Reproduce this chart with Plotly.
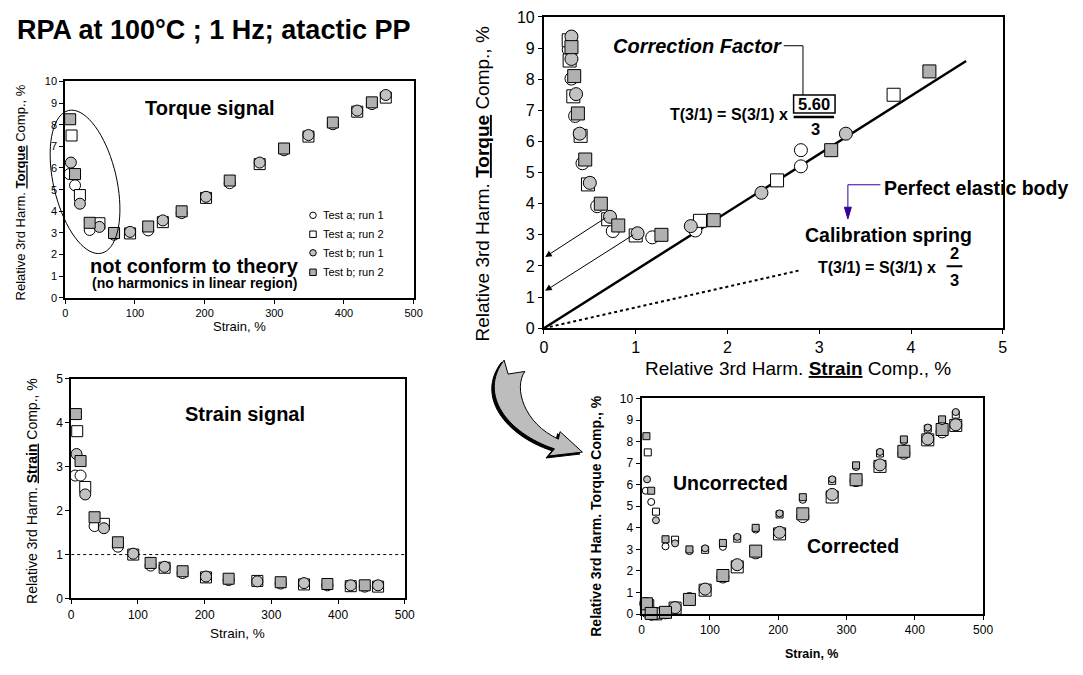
import math
import plotly.graph_objects as go

PAGE_W, PAGE_H = 1083, 675
OFF = 8  # default page body margin in the browser
W, H = PAGE_W - 2 * OFF, PAGE_H - 2 * OFF
FONT = "Liberation Sans, Arial, sans-serif"

# ---------------- data ----------------
strain_a1 = [6, 14, 35, 70, 119, 167, 236, 314, 384, 440]
strain_a2 = [9, 21, 49, 93, 140, 202, 279, 349, 419, 460]
strain_b1 = [8, 21, 49, 93, 140, 202, 279, 349, 419, 460]
strain_b2 = [7, 14, 35, 70, 119, 167, 236, 314, 384, 440]

# relative 3rd harmonic torque component, %
torque_a1 = [5.72, 5.20, 3.14, 2.92, 3.12, 3.92, 5.30, 6.82, 8.02, 8.95]
torque_a2 = [7.50, 4.75, 3.45, 2.98, 3.50, 4.62, 6.18, 7.45, 8.60, 9.25]
torque_b1 = [6.25, 4.35, 3.28, 3.05, 3.58, 4.67, 6.25, 7.52, 8.65, 9.37]
torque_b2 = [8.25, 5.72, 3.47, 3.00, 3.30, 4.00, 5.42, 6.90, 8.10, 9.03]

# relative 3rd harmonic strain component, %
strsig_a1 = [2.80, 2.80, 1.65, 1.18, 0.75, 0.58, 0.42, 0.34, 0.30, 0.27]
strsig_a2 = [3.81, 2.54, 1.70, 1.00, 0.70, 0.48, 0.40, 0.32, 0.28, 0.27]
strsig_b1 = [3.29, 2.37, 1.60, 1.02, 0.72, 0.50, 0.39, 0.35, 0.30, 0.30]
strsig_b2 = [4.20, 3.13, 1.85, 1.28, 0.81, 0.62, 0.45, 0.37, 0.33, 0.30]

# corrected torque component, %
corr_a1 = [0.49, 0.00, 0.06, 0.72, 1.72, 2.84, 4.52, 6.19, 7.46, 8.45]
corr_a2 = [0.39, 0.01, 0.28, 1.11, 2.19, 3.72, 5.43, 6.85, 8.08, 8.75]
corr_b1 = [0.11, 0.03, 0.30, 1.16, 2.29, 3.79, 5.55, 6.92, 8.12, 8.78]
corr_b2 = [0.48, 0.03, 0.08, 0.68, 1.79, 2.92, 4.65, 6.23, 7.55, 8.56]
corr_red = [0.60, 0.00, 0.15, 0.78, 1.66, 2.78, 4.50, 6.08, 7.40, 8.40]

series_names = ["Test a; run 1", "Test a; run 2", "Test b; run 1", "Test b; run 2"]
CORRECTION = 5.60
SPRING = 2.0
line_x_elastic = [0, 4.6]
line_x_spring = [0, 2.8]
ref_strain_level = 1.0

# ---------------- helpers ----------------
def px(x):
    return (x - OFF) / W

def py(y):
    return 1 - (y - OFF) / H

OPEN = "white"
GREY_C = "#c2c2c2"
GREY_S = "#b0b0b0"
styles = [
    dict(symbol="circle", color=OPEN),
    dict(symbol="square", color=OPEN),
    dict(symbol="circle", color=GREY_C),
    dict(symbol="square", color=GREY_S),
]

fig = go.Figure()

def add_set(xs_list, ys_list, xa, ya, size, clip=True):
    for xs, ys, st, nm in zip(xs_list, ys_list, styles, series_names):
        fig.add_trace(go.Scatter(
            x=xs, y=ys, mode="markers", name=nm, showlegend=False,
            xaxis=xa, yaxis=ya, cliponaxis=clip,
            marker=dict(symbol=st["symbol"], color=st["color"], size=size,
                        line=dict(color="black", width=1))))

# Panel 1: torque signal
add_set([strain_a1, strain_a2, strain_b1, strain_b2],
        [torque_a1, torque_a2, torque_b1, torque_b2], "x", "y", 11, False)

# Panel 2: strain signal
fig.add_trace(go.Scatter(x=[0, 500], y=[ref_strain_level, ref_strain_level], mode="lines",
                         xaxis="x2", yaxis="y2", showlegend=False,
                         line=dict(color="black", width=1, dash="dot")))
add_set([strain_a1, strain_a2, strain_b1, strain_b2],
        [strsig_a1, strsig_a2, strsig_b1, strsig_b2], "x2", "y2", 11, False)

# Panel 3: torque vs strain component
fig.add_trace(go.Scatter(x=line_x_spring, y=[v * SPRING / 3 for v in line_x_spring],
                         mode="lines", xaxis="x3", yaxis="y3", showlegend=False,
                         line=dict(color="black", width=2, dash="dot")))
fig.add_trace(go.Scatter(x=line_x_elastic, y=[v * CORRECTION / 3 for v in line_x_elastic],
                         mode="lines", xaxis="x3", yaxis="y3", showlegend=False,
                         line=dict(color="black", width=2.5)))
add_set([strsig_a1, strsig_a2, strsig_b1, strsig_b2],
        [torque_a1, torque_a2, torque_b1, torque_b2], "x3", "y3", 13, False)

# Panel 4: uncorrected and corrected
fig.add_trace(go.Scatter(x=strain_b2, y=corr_red, mode="markers", xaxis="x4", yaxis="y4",
                         showlegend=False, cliponaxis=False,
                         marker=dict(symbol="circle", color="red", size=8, line=dict(width=0))))
add_set([strain_a1, strain_a2, strain_b1, strain_b2],
        [corr_a1, corr_a2, corr_b1, corr_b2], "x4", "y4", 12, False)
add_set([strain_a1, strain_a2, strain_b1, strain_b2],
        [torque_a1, torque_a2, torque_b1, torque_b2], "x4", "y4", 7, False)

# ---------------- axes ----------------
def axis(domain, rng, dtick, tsize, anchor):
    return dict(domain=domain, range=rng, dtick=dtick, anchor=anchor,
                showgrid=False, zeroline=False, showline=True, mirror=True,
                linecolor="black", linewidth=2, ticks="outside", ticklen=4,
                tickwidth=1, tickcolor="black",
                tickfont=dict(family=FONT, size=tsize, color="black"))

layout = dict(
    width=W, height=H, margin=dict(l=0, r=0, t=0, b=0),
    paper_bgcolor="white", plot_bgcolor="white", showlegend=False,
    xaxis=axis([px(62), px(415)], [0, 500], 100, 11, "y"),
    yaxis=axis([py(298), py(76)], [0, 10], 1, 11, "x"),
    xaxis2=axis([px(68), px(406)], [0, 500], 100, 12, "y2"),
    yaxis2=axis([py(606), py(381)], [0, 5], 1, 12, "x2"),
    xaxis3=axis([px(547), px(1012)], [0, 5], 1, 16, "y3"),
    yaxis3=axis([py(329), py(10)], [0, 10], 1, 16, "x3"),
    xaxis4=axis([px(646), px(992)], [0, 500], 100, 12, "y4"),
    yaxis4=axis([py(622), py(401)], [0, 10], 1, 12, "x4"),
)
fig.update_layout(**layout)

# ---------------- annotations ----------------
ann = []

def text(x, y, s, size, bold=False, italic=False, angle=0, color="black", xanchor="center"):
    if bold:
        s = "<b>" + s + "</b>"
    if italic:
        s = "<i>" + s + "</i>"
    ann.append(dict(x=px(x), y=py(y), xref="paper", yref="paper", text=s, showarrow=False,
                    xanchor=xanchor, yanchor="middle", textangle=angle, borderpad=0,
                    font=dict(family=FONT, size=size, color=color)))

text(12, 23, "RPA at 100°C ; 1 Hz; atactic PP", 27, bold=True, xanchor="left")

# panel 1
text(17, 190, "Relative 3rd Harm. <b><u>Torque</u></b> Comp., %", 13, angle=-90)
text(238.5, 327, "Strain, %", 13)
text(209, 103, "Torque signal", 20, bold=True)
text(193, 265, "not conform to theory", 20, bold=True)
text(193, 283, "(no harmonics in linear region)", 14, bold=True)
for i, nm in enumerate(series_names):
    text(322, [213.3, 232.7, 251.7, 271.7][i], nm, 11, xanchor="left")

# panel 2
text(28, 496, "Relative 3rd Harm. <b><u>Strain</u></b> Comp., %", 14, angle=-90)
text(237, 642, "Strain, %", 13.5)
text(244.5, 417, "Strain signal", 20, bold=True)

# panel 3
text(485, 181, "Relative 3rd Harm. <b><u>Torque</u></b> Comp., %", 19, angle=-90)
text(804, 370, "Relative 3rd Harm. <b><u>Strain</u></b> Comp., %", 19)
text(702.5, 39.5, "Correction Factor", 20, bold=True, italic=True)
text(735, 110, "T(3/1) = S(3/1) x", 16, bold=True)
text(821, 99.5, "5.60", 16.5, bold=True)
text(822, 125, "3", 16.5, bold=True)
text(891, 185.5, "Perfect elastic body", 19.5, bold=True, xanchor="left")
text(896, 233.5, "Calibration spring", 19.5, bold=True)
text(884, 267, "T(3/1) = S(3/1) x", 16, bold=True)
text(963, 251.5, "2", 16.5, bold=True)
text(963, 280, "3", 16.5, bold=True)

# panel 4
text(599, 522, "Relative 3rd Harm. Torque Comp., %", 14, bold=True, angle=-90)
text(819, 663, "Strain, %", 12.5, bold=True)
text(736, 488, "Uncorrected", 19.5, bold=True)
text(860, 552, "Corrected", 19.5, bold=True)

# arrows in panel 3
for (hx, hy, tx, ty) in [(0.014, 2.29, 0.685, 3.57), (0.014, 1.20, 0.99, 3.03)]:
    ann.append(dict(x=hx, y=hy, xref="x3", yref="y3", ax=tx, ay=ty, axref="x3", ayref="y3",
                    text="", showarrow=True, arrowhead=2, arrowsize=1.3, arrowwidth=1,
                    arrowcolor="black"))

fig.update_layout(annotations=ann)

# ---------------- shapes ----------------
shapes = []

def P(x, y):
    return f"{px(x):.5f},{py(y):.5f}"

def pline(x0, y0, x1, y1, width=1, color="black"):
    shapes.append(dict(type="line", xref="paper", yref="paper", x0=px(x0), y0=py(y0),
                       x1=px(x1), y1=py(y1), line=dict(color=color, width=width)))

# ellipse around low-strain region (panel 1)
cx, cy, a, b, th = 82, 179, 75, 32, math.radians(12.8)
u = (math.sin(th), math.cos(th))
v = (math.cos(th), -math.sin(th))
pts = []
for k in range(73):
    t = 2 * math.pi * k / 72
    pts.append((cx + a * math.cos(t) * u[0] + b * math.sin(t) * v[0],
                cy + a * math.cos(t) * u[1] + b * math.sin(t) * v[1]))
path = "M " + " L ".join(P(x, y) for x, y in pts) + " Z"
shapes.append(dict(type="path", xref="paper", yref="paper", path=path,
                   line=dict(color="black", width=1)))

# legend markers (panel 1)
leg_y = [213.3, 232.7, 251.7, 271.7]
for i, st in enumerate(styles):
    x0, y0 = 313, leg_y[i]
    r = 3.3
    shapes.append(dict(type="circle" if st["symbol"] == "circle" else "rect",
                       xref="paper", yref="paper",
                       x0=px(x0 - r), x1=px(x0 + r), y0=py(y0 + r), y1=py(y0 - r),
                       fillcolor=st["color"], line=dict(color="black", width=1)))

# correction factor connector, box and fraction bars
pline(790, 39.5, 809.5, 39.5)
pline(809.5, 39.5, 809.5, 90)
shapes.append(dict(type="rect", xref="paper", yref="paper", x0=px(800), x1=px(842),
                   y0=py(108.5), y1=py(90), line=dict(color="black", width=1.5)))
pline(800, 112.5, 841, 112.5, width=2.5)
pline(955, 265.5, 971, 265.5, width=2)

# perfect elastic body connector (purple)
PURP = "#330099"
pline(888, 182, 855, 182, color=PURP)
pline(855, 182, 855, 207, color=PURP)
shapes.append(dict(type="path", xref="paper", yref="paper",
                   path=f"M {P(851.5, 205)} L {P(858.5, 205)} L {P(855, 217)} Z",
                   fillcolor=PURP, line=dict(color=PURP, width=1)))

# curved arrow between panels
def Z(zx, zy, dx=0.0, dy=0.0):
    return P(460 + zx / 3 + dx, 330 + zy / 3 + dy)

def arrow_path(dx, dy):
    return (f"M {Z(140, 95, dx, dy)} L {Z(152, 138, dx, dy)} L {Z(203, 130, dx, dy)} "
            f"C {Z(168, 180, dx, dy)} {Z(200, 290, dx, dy)} {Z(305, 338, dx, dy)} "
            f"L {Z(310, 315, dx, dy)} L {Z(378, 378, dx, dy)} L {Z(275, 390, dx, dy)} "
            f"L {Z(293, 368, dx, dy)} "
            f"C {Z(150, 320, dx, dy)} {Z(60, 200, dx, dy)} {Z(140, 95, dx, dy)} Z")

shapes.append(dict(type="path", xref="paper", yref="paper", path=arrow_path(-2.5, 2.0),
                   fillcolor="black", line=dict(color="black", width=1)))
shapes.append(dict(type="path", xref="paper", yref="paper", path=arrow_path(0, 0),
                   fillcolor="#bdbdbd", line=dict(color="black", width=1)))

fig.update_layout(shapes=shapes)

fig.write_html("out.html")
